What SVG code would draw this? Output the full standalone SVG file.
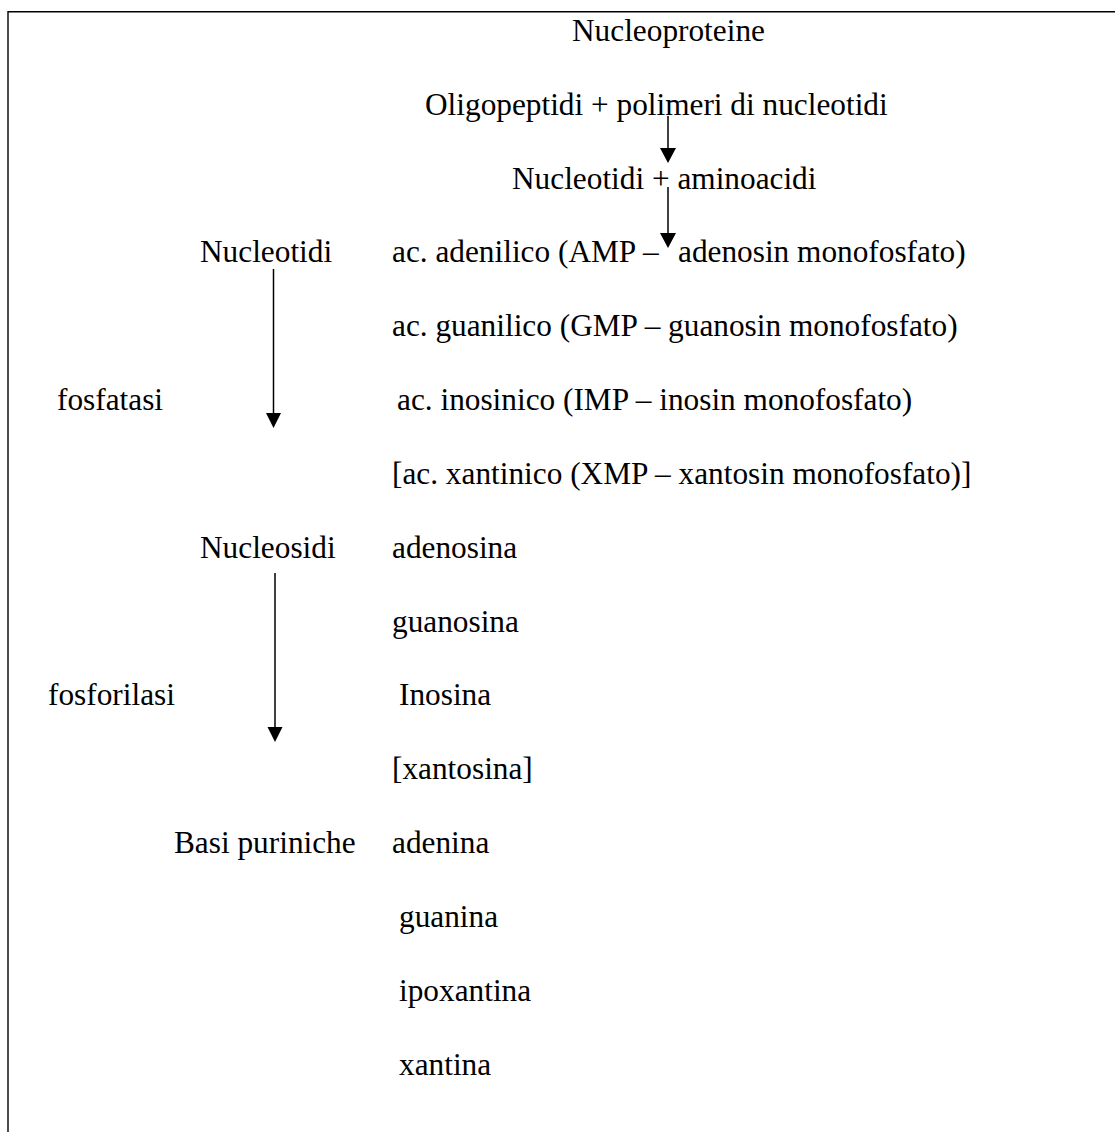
<svg xmlns="http://www.w3.org/2000/svg" width="1115" height="1132" viewBox="0 0 1115 1132">
<style>
text{font-family:"Liberation Serif","Times New Roman",serif;font-size:31.3px;fill:#000}
.b{stroke:#000;stroke-width:1.4;fill:none}
.c{stroke:#000;stroke-width:1.5;fill:none}
</style>
<defs>
<marker id="ah" markerWidth="16" markerHeight="16" viewBox="0 0 16 16" refX="8" refY="15.5" orient="auto-start-reverse" markerUnits="userSpaceOnUse">
<path d="M0.5,0 L15.5,0 L8,15.5 Z" fill="#000" transform="rotate(0)"/>
</marker>
</defs>
<rect width="1115" height="1132" fill="#fff"/>
<g id="frame">
<line class="b" x1="8" y1="11.7" x2="1115" y2="11.7"/>
<line class="b" x1="8" y1="11" x2="8" y2="1132"/>
</g>
<g id="connectors">
<path class="c" d="M668,116 V148"/><path d="M660,148 H676 L668,163 Z" fill="#000"/>
<path class="c" d="M668,187 V233"/><path d="M660,233 H676 L668,248 Z" fill="#000"/>
<path class="c" d="M273.5,269 V413"/><path d="M266,413 H281 L273.5,428 Z" fill="#000"/>
<path class="c" d="M275,573 V727"/><path d="M267.5,727 H282.5 L275,742 Z" fill="#000"/>
</g>
<g id="n-nucleoproteine"><text x="572" y="41">Nucleoproteine</text></g>
<g id="n-oligo"><text x="425" y="115">Oligopeptidi + polimeri di nucleotidi</text></g>
<g id="n-nucl-amino"><text x="512" y="189">Nucleotidi + aminoacidi</text></g>
<g id="n-nucleotidi"><text x="200" y="262">Nucleotidi</text></g>
<g id="n-amp"><text x="392" y="262">ac. adenilico (AMP –</text><text x="678" y="262">adenosin monofosfato)</text></g>
<g id="n-gmp"><text x="392" y="336">ac. guanilico (GMP – guanosin monofosfato)</text></g>
<g id="n-fosfatasi"><text x="57" y="410">fosfatasi</text></g>
<g id="n-imp"><text x="397" y="410">ac. inosinico (IMP – inosin monofosfato)</text></g>
<g id="n-xmp"><text x="392" y="484">[ac. xantinico (XMP – xantosin monofosfato)]</text></g>
<g id="n-nucleosidi"><text x="200" y="558">Nucleosidi</text></g>
<g id="n-adenosina"><text x="392" y="558">adenosina</text></g>
<g id="n-guanosina"><text x="392" y="632">guanosina</text></g>
<g id="n-fosforilasi"><text x="48" y="705">fosforilasi</text></g>
<g id="n-inosina"><text x="399" y="705">Inosina</text></g>
<g id="n-xantosina"><text x="392" y="779">[xantosina]</text></g>
<g id="n-basi"><text x="174" y="853">Basi puriniche</text></g>
<g id="n-adenina"><text x="392" y="853">adenina</text></g>
<g id="n-guanina"><text x="399" y="927">guanina</text></g>
<g id="n-ipoxantina"><text x="399" y="1001">ipoxantina</text></g>
<g id="n-xantina"><text x="399" y="1075">xantina</text></g>
</svg>
